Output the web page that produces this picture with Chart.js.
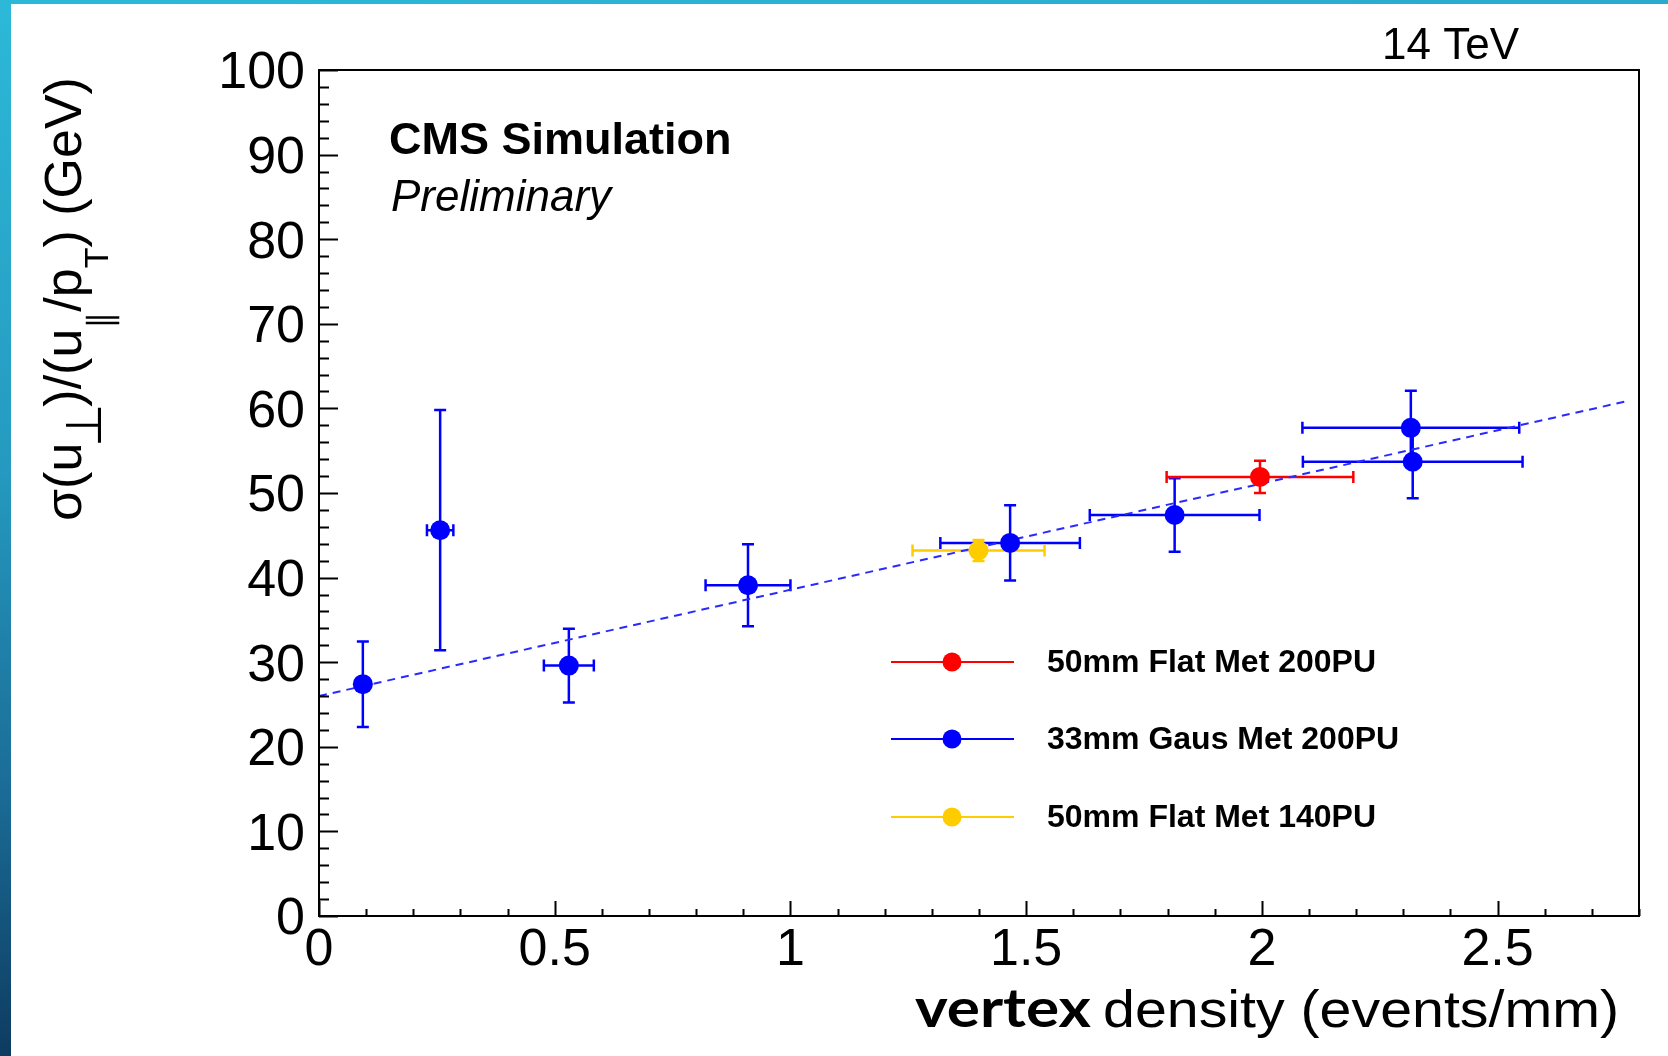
<!DOCTYPE html>
<html><head><meta charset="utf-8">
<script src="https://cdn.jsdelivr.net/npm/chart.js@4.4.1/dist/chart.umd.min.js"></script>
<style>
html,body{margin:0;padding:0;background:#fff;}
#wrap{position:relative;width:1668px;height:1056px;overflow:hidden;background:#fff;}
#topbar{position:absolute;left:0;top:0;width:1668px;height:4px;background:linear-gradient(to right,#2cb9d7,#2aaacf);}
#leftbar{position:absolute;left:0;top:0;width:11px;height:1056px;background:linear-gradient(to bottom,#2cb9d7 0%,#2599bf 45%,#1a6c96 75%,#0e3b60 100%);}
canvas{position:absolute;left:0;top:0;}
</style></head>
<body><div id="wrap"><canvas id="c" width="1668" height="1056"></canvas><div id="topbar"></div><div id="leftbar"></div></div>
<script>
// ---- data ----
const xTickValues = [0, 0.5, 1, 1.5, 2, 2.5];
const yTickValues = [0, 10, 20, 30, 40, 50, 60, 70, 80, 90, 100];
const seriesLabels = ['50mm Flat Met 200PU', '33mm Gaus Met 200PU', '50mm Flat Met 140PU'];

const redX = [1.996];
const redY = [51.9];
const redXErr = [0.198];
const redYErr = [1.9];

const blueX = [0.093, 0.257, 0.530, 0.910, 1.466, 1.815, 2.316, 2.320];
const blueY = [27.4, 45.6, 29.6, 39.1, 44.1, 47.4, 57.7, 53.7];
const blueXErr = [0, 0.028, 0.053, 0.090, 0.148, 0.180, 0.230, 0.233];
const blueYErr = [5.05, 14.2, 4.35, 4.85, 4.45, 4.35, 4.4, 4.33];

const yelX = [1.399];
const yelY = [43.2];
const yelXErr = [0.140];
const yelYErr = [1.25];

const fitX = [0, 2.77];
const fitY = [26.0, 60.8];

// ---- styling ----
const FONT = "'Liberation Sans', Arial, Helvetica, sans-serif";
const COLORS = ['#ff0000', '#0000ff', '#ffcc00'];

function pts(xs, ys) { return xs.map((x, i) => ({x: x, y: ys[i]})); }

const seriesErr = [
  {xs: redX, ys: redY, ex: redXErr, ey: redYErr, color: COLORS[0]},
  {xs: blueX, ys: blueY, ex: blueXErr, ey: blueYErr, color: COLORS[1]},
  {xs: yelX, ys: yelY, ex: yelXErr, ey: yelYErr, color: COLORS[2]}
];

const errorBars = {
  id: 'errorBars',
  beforeDatasetsDraw(chart) {
    const ctx = chart.ctx, xs = chart.scales.x, ys = chart.scales.y;
    const cap = 6;
    ctx.save();
    ctx.lineWidth = 2.5;
    ctx.lineCap = 'butt';
    [1, 0, 2].forEach(k => {
      const s = seriesErr[k];
      ctx.strokeStyle = s.color;
      s.xs.forEach((x, i) => {
        const px = xs.getPixelForValue(x), py = ys.getPixelForValue(s.ys[i]);
        ctx.beginPath();
        if (s.ex[i] > 0) {
          const x1 = xs.getPixelForValue(x - s.ex[i]), x2 = xs.getPixelForValue(x + s.ex[i]);
          ctx.moveTo(x1, py); ctx.lineTo(x2, py);
          ctx.moveTo(x1, py - cap); ctx.lineTo(x1, py + cap);
          ctx.moveTo(x2, py - cap); ctx.lineTo(x2, py + cap);
        }
        if (s.ey[i] > 0) {
          const y1 = ys.getPixelForValue(s.ys[i] + s.ey[i]), y2 = ys.getPixelForValue(s.ys[i] - s.ey[i]);
          ctx.moveTo(px, y1); ctx.lineTo(px, y2);
          ctx.moveTo(px - cap, y1); ctx.lineTo(px + cap, y1);
          ctx.moveTo(px - cap, y2); ctx.lineTo(px + cap, y2);
        }
        ctx.stroke();
      });
    });
    ctx.restore();
  }
};

const rootDecor = {
  id: 'rootDecor',
  afterDraw(chart) {
    const ctx = chart.ctx, a = chart.chartArea, xs = chart.scales.x, ys = chart.scales.y;
    ctx.save();
    // frame
    ctx.strokeStyle = '#000';
    ctx.lineWidth = 2;
    ctx.strokeRect(a.left, a.top, a.right - a.left, a.bottom - a.top);
    // ticks (inward)
    ctx.beginPath();
    for (let v = 0; v <= 100.001; v += 2) {
      const py = Math.round(ys.getPixelForValue(v)) + 0.5;
      const len = (Math.abs(v % 10) < 1e-6) ? 19 : 10;
      ctx.moveTo(a.left, py); ctx.lineTo(a.left + len, py);
    }
    for (let i = 0; i <= 28; i++) {
      const v = i / 10;
      const px = Math.round(xs.getPixelForValue(v)) + 0.5;
      const len = (i % 5 === 0) ? 15 : 7;
      ctx.moveTo(px, a.bottom); ctx.lineTo(px, a.bottom - len);
    }
    ctx.stroke();

    ctx.fillStyle = '#000';
    ctx.textBaseline = 'alphabetic';
    ctx.textAlign = 'left';
    // energy label
    ctx.font = '44px ' + FONT;
    ctx.fillText('14 TeV', 1382, 59);
    // CMS labels
    ctx.font = 'bold 45px ' + FONT;
    ctx.fillText('CMS Simulation', 389, 154);
    ctx.font = 'italic 44px ' + FONT;
    ctx.fillText('Preliminary', 391, 211);

    // legend
    const rows = [662, 739, 817];
    seriesLabels.forEach((lab, i) => {
      const y = rows[i];
      ctx.strokeStyle = COLORS[i];
      ctx.lineWidth = 2;
      ctx.beginPath(); ctx.moveTo(891, y); ctx.lineTo(1014, y); ctx.stroke();
      ctx.fillStyle = COLORS[i];
      ctx.beginPath(); ctx.arc(952, y, 9.5, 0, Math.PI * 2); ctx.fill();
      ctx.fillStyle = '#000';
      ctx.font = 'bold 32px ' + FONT;
      ctx.textBaseline = 'middle';
      ctx.fillText(lab, 1047, y + 1);
    });

    // x title
    ctx.textBaseline = 'alphabetic';
    ctx.save();
    ctx.font = 'bold 54px Lato, ' + FONT;
    const wv = ctx.measureText('vertex').width;
    ctx.translate(915, 1027);
    ctx.scale(176 / wv, 1);
    ctx.fillText('vertex', 0, 0);
    ctx.restore();
    ctx.save();
    ctx.font = '52px ' + FONT;
    const wd = ctx.measureText('density (events/mm)').width;
    ctx.translate(1103, 1027);
    ctx.scale(516 / wd, 1);
    ctx.fillText('density (events/mm)', 0, 0);
    ctx.restore();

    // y title (rotated)
    ctx.save();
    ctx.translate(81, 521);
    ctx.rotate(-Math.PI / 2);
    const main = '52px ' + FONT;
    const parts = [
      ['σ(u', main, 0, 0],
      ['⊥', '50px ' + FONT, 20, -4],
      [')/(u', main, 0, -4],
      ['∥', '34px DejaVu Sans, ' + FONT, 31, 0],
      ['/p', main, 0, 0],
      ['T', '34px ' + FONT, 27, 0],
      [') (GeV)', main, 0, 0]
    ];
    let cx = 0;
    parts.forEach(p => {
      ctx.font = p[1];
      cx += p[3];
      ctx.fillText(p[0], cx, p[2]);
      cx += ctx.measureText(p[0]).width;
    });
    ctx.restore();

    ctx.restore();
  }
};

Chart.defaults.font.family = FONT;
Chart.defaults.color = '#000';

new Chart(document.getElementById('c'), {
  type: 'scatter',
  data: {
    datasets: [
      {label: 'fit', type: 'line', data: pts(fitX, fitY), borderColor: '#2a2aff', borderWidth: 2,
       borderDash: [8, 6], pointRadius: 0, fill: false, order: 10, showLine: true},
      {label: seriesLabels[1], data: pts(blueX, blueY), pointRadius: 10, pointBackgroundColor: COLORS[1],
       pointBorderWidth: 0, borderColor: COLORS[1], order: 3},
      {label: seriesLabels[0], data: pts(redX, redY), pointRadius: 10, pointBackgroundColor: COLORS[0],
       pointBorderWidth: 0, borderColor: COLORS[0], order: 2},
      {label: seriesLabels[2], data: pts(yelX, yelY), pointRadius: 10, pointBackgroundColor: COLORS[2],
       pointBorderWidth: 0, borderColor: COLORS[2], order: 1}
    ]
  },
  options: {
    responsive: false,
    animation: false,
    devicePixelRatio: 1,
    layout: {padding: {left: 0, top: 70, right: 29, bottom: 0}},
    plugins: {legend: {display: false}, tooltip: {enabled: false}, title: {display: false}},
    scales: {
      x: {
        type: 'linear', min: 0, max: 2.8, position: 'bottom',
        afterFit(s) { s.height = 140; },
        afterBuildTicks(s) { s.ticks = xTickValues.map(v => ({value: v})); },
        ticks: {font: {size: 52}, color: '#000', padding: 3, maxRotation: 0, autoSkip: false,
                callback: v => String(v)},
        grid: {display: false, drawTicks: false},
        border: {display: false}
      },
      y: {
        type: 'linear', min: 0, max: 100, position: 'left',
        afterFit(s) { s.width = 319; },
        afterBuildTicks(s) { s.ticks = yTickValues.map(v => ({value: v})); },
        ticks: {font: {size: 52}, color: '#000', padding: 14, autoSkip: false, labelOffset: 4,
                callback: v => String(v)},
        grid: {display: false, drawTicks: false},
        border: {display: false}
      }
    }
  },
  plugins: [errorBars, rootDecor]
});
</script>
</body></html>
